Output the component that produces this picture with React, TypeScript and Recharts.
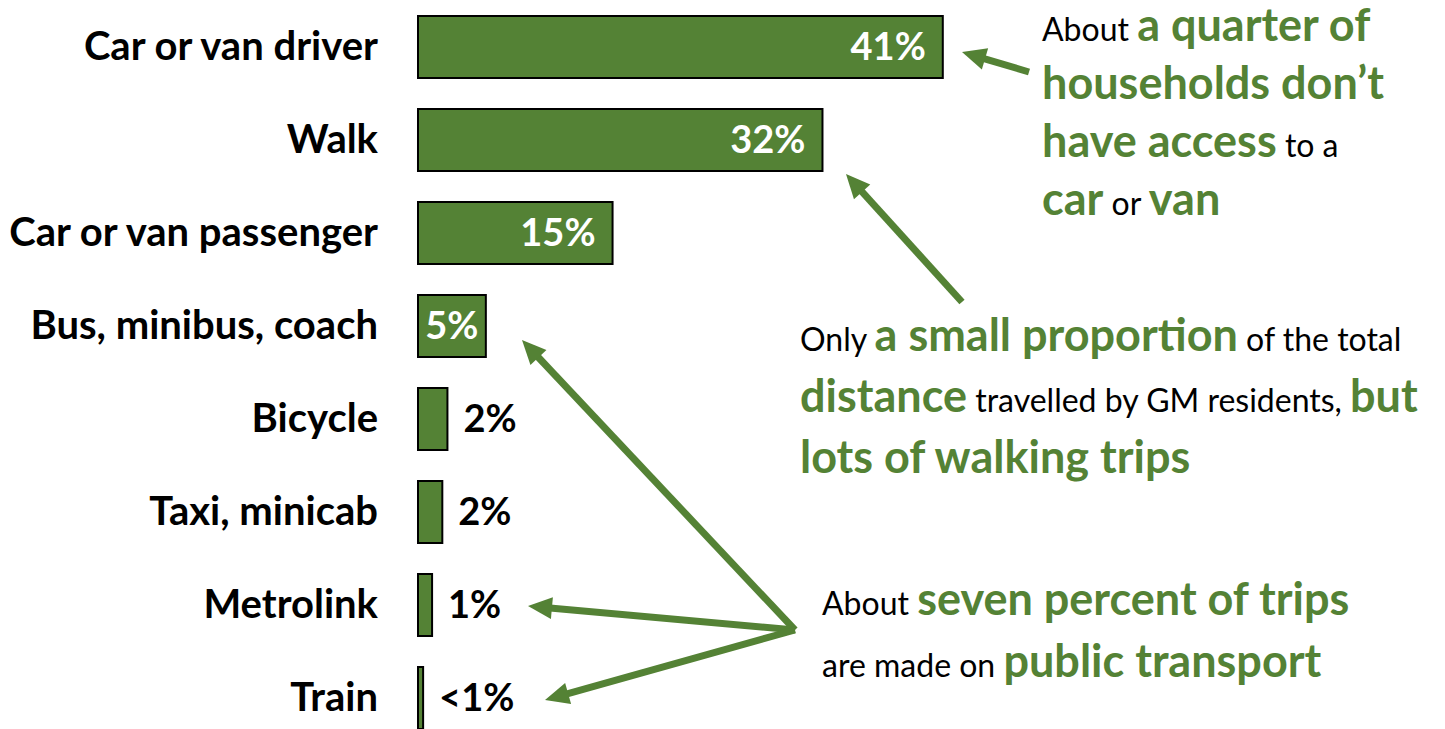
import React from "react";
import { BarChart, Bar, XAxis, YAxis, LabelList } from "recharts";

const categories = [
  "Car or van driver",
  "Walk",
  "Car or van passenger",
  "Bus, minibus, coach",
  "Bicycle",
  "Taxi, minicab",
  "Metrolink",
  "Train",
];
const shares = [41.0, 31.6, 15.2, 5.3, 2.3, 1.9, 1.1, 0.4];
const shareLabels = ["41%", "32%", "15%", "5%", "2%", "2%", "1%", "<1%"];

const data = categories.map((name, i) => ({ name, share: shares[i], label: shareLabels[i] }));

const GREEN = "#548235";
const FONT = "Lato, 'Open Sans', sans-serif";

if (typeof document !== "undefined") document.body.style.margin = "0";

const CategoryTick = (props: any) => {
  const { x, y, payload } = props;
  return (
    <text x={x} y={y} dy={13} textAnchor="end" fontFamily={FONT} fontWeight={700} fontSize={40} fill="#000">
      {payload.value}
    </text>
  );
};

const ValueLabel = (props: any) => {
  const { x, y, width, height, value, index } = props;
  const inside = shares[index] >= 5;
  const cy = y + height / 2 + 13;
  if (inside) {
    const wide = width > 120;
    return (
      <text
        x={wide ? x + width - 17 : x + width / 2}
        y={cy}
        textAnchor={wide ? "end" : "middle"}
        fontFamily={FONT}
        fontWeight={700}
        fontSize={38}
        fill="#fff"
      >
        {value}
      </text>
    );
  }
  return (
    <text x={x + width + 16} y={cy} textAnchor="start" fontFamily={FONT} fontWeight={700} fontSize={38} fill="#000">
      {value}
    </text>
  );
};

// arrow with a triangular head, tip at (x2, y2)
const Arrow = ({ x1, y1, x2, y2 }: { x1: number; y1: number; x2: number; y2: number }) => {
  const ang = Math.atan2(y2 - y1, x2 - x1);
  const len = 24;
  const half = 11;
  const bx = x2 - len * Math.cos(ang);
  const by = y2 - len * Math.sin(ang);
  const px = -Math.sin(ang) * half;
  const py = Math.cos(ang) * half;
  return (
    <g>
      <line x1={x1} y1={y1} x2={bx + 2 * Math.cos(ang)} y2={by + 2 * Math.sin(ang)} stroke={GREEN} strokeWidth={7} />
      <polygon points={`${x2},${y2} ${bx + px},${by + py} ${bx - px},${by - py}`} fill={GREEN} />
    </g>
  );
};

const big = { fill: GREEN, fontWeight: 700, fontSize: 45 } as const;
const small = { fill: "#000", fontWeight: 400, fontSize: 32 } as const;

export default function App() {
  return (
    <div style={{ position: "relative", width: 1445, height: 729, overflow: "hidden", background: "#fff" }}>
      <BarChart
        width={1445}
        height={744}
        data={data}
        layout="vertical"
        margin={{ top: 0, right: 387, left: 0, bottom: 0 }}
      >
        <XAxis type="number" domain={[0, 50]} hide />
        <YAxis
          type="category"
          dataKey="name"
          width={418}
          axisLine={false}
          tickLine={false}
          tickSize={0}
          tickMargin={40}
          tick={<CategoryTick />}
        />
        <Bar dataKey="share" fill={GREEN} stroke="#000" strokeWidth={2} barSize={62} isAnimationActive={false}>
          <LabelList dataKey="label" content={<ValueLabel />} />
        </Bar>
      </BarChart>

      <svg
        width={1445}
        height={729}
        style={{ position: "absolute", left: 0, top: 0, pointerEvents: "none" }}
        fontFamily={FONT}
      >
        <Arrow x1={1029} y1={72} x2={962} y2={52} />
        <Arrow x1={962} y1={302} x2={846} y2={174} />
        <Arrow x1={795} y1={630} x2={522} y2={340} />
        <Arrow x1={795} y1={630} x2={528} y2={606} />
        <Arrow x1={795} y1={630} x2={545} y2={700} />

        <text x={1042} y={41}>
          <tspan {...small}>About </tspan>
          <tspan {...big}>a quarter of</tspan>
        </text>
        <text x={1042} y={99}>
          <tspan {...big}>households don’t</tspan>
        </text>
        <text x={1042} y={157}>
          <tspan {...big}>have access</tspan>
          <tspan {...small}> to a</tspan>
        </text>
        <text x={1042} y={215}>
          <tspan {...big}>car</tspan>
          <tspan {...small}> or </tspan>
          <tspan {...big}>van</tspan>
        </text>

        <text x={800} y={351}>
          <tspan {...small}>Only </tspan>
          <tspan {...big}>a small proportion</tspan>
          <tspan {...small}> of the total</tspan>
        </text>
        <text x={800} y={412}>
          <tspan {...big}>distance</tspan>
          <tspan {...small}> travelled by GM residents, </tspan>
          <tspan {...big}>but</tspan>
        </text>
        <text x={800} y={473}>
          <tspan {...big}>lots of walking trips</tspan>
        </text>

        <text x={822} y={615}>
          <tspan {...small}>About </tspan>
          <tspan {...big}>seven percent of trips</tspan>
        </text>
        <text x={822} y={677}>
          <tspan {...small}>are made on </tspan>
          <tspan {...big}>public transport</tspan>
        </text>
      </svg>
    </div>
  );
}
